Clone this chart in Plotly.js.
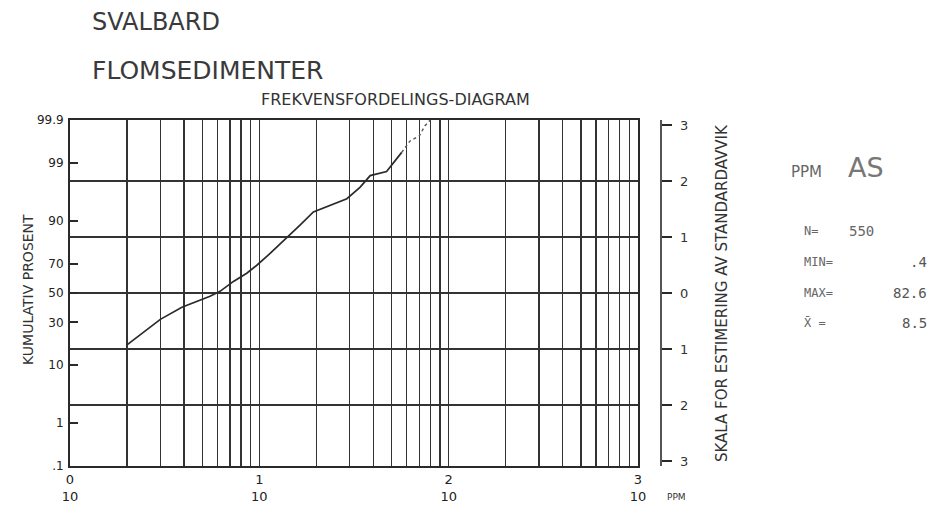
<!DOCTYPE html>
<html>
<head>
<meta charset="utf-8">
<script src="https://cdn.plot.ly/plotly-3.0.1.min.js"></script>
<style>html,body{margin:0;padding:0;background:#fff;}#chart{width:934px;height:509px;}</style>
</head>
<body>
<div id="chart"></div>
<script>
// ---- data ----
const ppm = [2.0, 2.44, 3.0, 3.9, 4.67, 5.49, 6.2, 7.3, 8.58, 9.7, 11.4, 13.9, 16.4, 19.3, 22.7, 29, 34, 38.5, 47, 56.5];
const cumPct = [17.7, 23.9, 31.9, 40.0, 44.2, 47.7, 51.2, 58.2, 63.8, 69.0, 76.0, 83.5, 88.7, 92.6, 93.8, 95.4, 97.05, 98.2, 98.5, 99.4];
const tailPpm = [56.5, 62.5, 70, 75, 80];
const tailPct = [99.4, 99.67, 99.75, 99.86, 99.9];

const leftTickPct = [0.1, 1, 10, 30, 50, 70, 90, 99, 99.9];
const leftTickText = [".1", "1", "10", "30", "50", "70", "90", "99", "99.9"];
const sdTicks = [-3, -2, -1, 0, 1, 2, 3];
const sdTickText = ["3", "2", "1", "0", "1", "2", "3"];
const sdGrid = [-2, -1, 0, 1, 2];
const xGridVals = [1,2,3,4,5,6,7,8,9,10,20,30,40,50,60,70,80,90,100,200,300,400,500,600,700,800,900,1000];
const xDecades = [1, 10, 100, 1000];
const xDecadeText = ["0<br>10", "1<br>10", "2<br>10", "3<br>10"];
const statLabels = ["N=", "MIN=", "MAX=", "X\u0304 ="];
const statValues = ["550", ".4", "82.6", "8.5"];

// inverse normal CDF (probability scale)
function probit(p) {
  const a = [-3.969683028665376e+01, 2.209460984245205e+02, -2.759285104469687e+02, 1.383577518672690e+02, -3.066479806614716e+01, 2.506628277459239e+00];
  const b = [-5.447609879822406e+01, 1.615858368580409e+02, -1.556989798598866e+02, 6.680131188771972e+01, -1.328068155288572e+01];
  const c = [-7.784894002430293e-03, -3.223964580411365e-01, -2.400758277161838e+00, -2.549732539343734e+00, 4.374664141464968e+00, 2.938163982698783e+00];
  const d = [7.784695709041462e-03, 3.224671290700398e-01, 2.445134137142996e+00, 3.754408661907416e+00];
  const pl = 0.02425, ph = 1 - pl;
  let q, r;
  if (p < pl) { q = Math.sqrt(-2 * Math.log(p)); return (((((c[0]*q+c[1])*q+c[2])*q+c[3])*q+c[4])*q+c[5]) / ((((d[0]*q+d[1])*q+d[2])*q+d[3])*q+1); }
  if (p <= ph) { q = p - 0.5; r = q*q; return (((((a[0]*r+a[1])*r+a[2])*r+a[3])*r+a[4])*r+a[5])*q / (((((b[0]*r+b[1])*r+b[2])*r+b[3])*r+b[4])*r+1); }
  q = Math.sqrt(-2 * Math.log(1 - p)); return -(((((c[0]*q+c[1])*q+c[2])*q+c[3])*q+c[4])*q+c[5]) / ((((d[0]*q+d[1])*q+d[2])*q+d[3])*q+1);
}
const z = v => probit(v / 100);
const yr = [z(0.1), z(99.9)];

const ink = '#2a2a2a';
const fontMain = 'DejaVu Sans, sans-serif';

const traces = [
  {x: ppm, y: cumPct.map(z), xaxis: 'x', yaxis: 'y', mode: 'lines', line: {color: ink, width: 1.7}, hoverinfo: 'skip', showlegend: false},
  {x: tailPpm, y: tailPct.map(z), xaxis: 'x', yaxis: 'y', mode: 'lines', line: {color: '#555', width: 1.4, dash: 'dot'}, hoverinfo: 'skip', showlegend: false},
  {x: ppm, y: cumPct.map(z), xaxis: 'x', yaxis: 'y2', mode: 'lines', line: {width: 0}, opacity: 0, hoverinfo: 'skip', showlegend: false},
  {x: ppm, y: cumPct.map(z), xaxis: 'x', yaxis: 'y3', mode: 'lines', line: {width: 0}, opacity: 0, hoverinfo: 'skip', showlegend: false}
];

const xTickText = xGridVals.map(v => { const i = xDecades.indexOf(v); return i >= 0 ? xDecadeText[i] : ''; });

// paper-coordinate helpers (plot area: x 70..660 px, y 120..466 px)
const px = p => (p - 70) / 590;
const py = p => (466 - p) / 346;

const annotations = [
  {text: 'SVALBARD', x: px(90), y: py(22), xanchor: 'left', yanchor: 'middle', font: {family: fontMain, size: 24, color: '#3a3a3a'}},
  {text: 'FLOMSEDIMENTER', x: px(90), y: py(70), xanchor: 'left', yanchor: 'middle', font: {family: fontMain, size: 25, color: '#3a3a3a'}},
  {text: 'FREKVENSFORDELINGS-DIAGRAM', x: px(395), y: py(100), xanchor: 'center', yanchor: 'middle', font: {family: fontMain, size: 16, color: '#333'}},
  {text: 'KUMULATIV PROSENT', x: px(28), y: py(290), textangle: -90, xanchor: 'center', yanchor: 'middle', font: {family: fontMain, size: 14, color: '#333'}},
  {text: 'SKALA FOR ESTIMERING AV STANDARDAVVIK', x: px(722), y: py(293), textangle: -90, xanchor: 'center', yanchor: 'middle', font: {family: fontMain, size: 15, color: '#333'}},
  {text: 'PPM', x: px(665), y: py(497), xanchor: 'left', yanchor: 'middle', font: {family: fontMain, size: 9, color: '#333'}},
  {text: 'PPM', x: px(789), y: py(172), xanchor: 'left', yanchor: 'middle', font: {family: fontMain, size: 15, color: '#666'}},
  {text: 'AS', x: px(846), y: py(167), xanchor: 'left', yanchor: 'middle', font: {family: fontMain, size: 27, color: '#777'}}
];
const statY = [231, 262, 293, 323];
statLabels.forEach((lab, i) => {
  annotations.push({text: lab, x: px(802), y: py(statY[i]), xanchor: 'left', yanchor: 'middle', font: {family: 'DejaVu Sans Mono, monospace', size: 12, color: '#666'}});
  if (i === 0) {
    annotations.push({text: statValues[i], x: px(847), y: py(statY[i]), xanchor: 'left', yanchor: 'middle', font: {family: 'DejaVu Sans Mono, monospace', size: 14, color: '#666'}});
  } else {
    annotations.push({text: statValues[i], x: px(929), y: py(statY[i]), xanchor: 'right', yanchor: 'middle', font: {family: 'DejaVu Sans Mono, monospace', size: 14, color: '#555'}});
  }
});
annotations.forEach(a => { a.xref = 'paper'; a.yref = 'paper'; a.showarrow = false; });

const layout = {
  width: 934, height: 509,
  margin: {l: 70, r: 274, t: 120, b: 43, pad: 0},
  paper_bgcolor: '#fff', plot_bgcolor: '#fff',
  showlegend: false,
  xaxis: {
    type: 'log', range: [0, 3], domain: [0, 568 / 590],
    tickmode: 'array', tickvals: xGridVals, ticktext: xTickText,
    showgrid: true, gridcolor: '#333', gridwidth: 1.6,
    showline: true, linecolor: ink, linewidth: 2, mirror: true,
    ticks: '', zeroline: false,
    tickfont: {family: fontMain, size: 13, color: '#222'}
  },
  yaxis: {
    range: yr, tickmode: 'array', tickvals: leftTickPct.map(z), ticktext: leftTickText,
    ticks: 'inside', ticklen: 8, tickwidth: 2, tickcolor: ink,
    showgrid: false, zeroline: false,
    showline: true, linecolor: ink, linewidth: 2, mirror: true,
    ticklabelstandoff: 2,
    tickfont: {family: fontMain, size: 12, color: '#222'}
  },
  yaxis2: {
    range: yr, overlaying: 'y', anchor: 'free', position: 1, side: 'right',
    tickmode: 'array', tickvals: sdTicks, ticktext: sdTickText,
    ticks: 'outside', ticklen: 10, tickwidth: 2, tickcolor: ink,
    ticklabelstandoff: 6,
    showline: true, linecolor: '#555', linewidth: 1.5,
    showgrid: false, zeroline: false,
    tickfont: {family: fontMain, size: 13, color: '#333'}
  },
  yaxis3: {
    range: yr, overlaying: 'y', anchor: 'x', side: 'left',
    tickmode: 'array', tickvals: sdGrid, showticklabels: false, ticks: '',
    showgrid: true, gridcolor: '#333', gridwidth: 1.8, zeroline: false, showline: false
  },
  annotations: annotations
};

Plotly.newPlot('chart', traces, layout, {staticPlot: true, displayModeBar: false});
</script>
</body>
</html>
